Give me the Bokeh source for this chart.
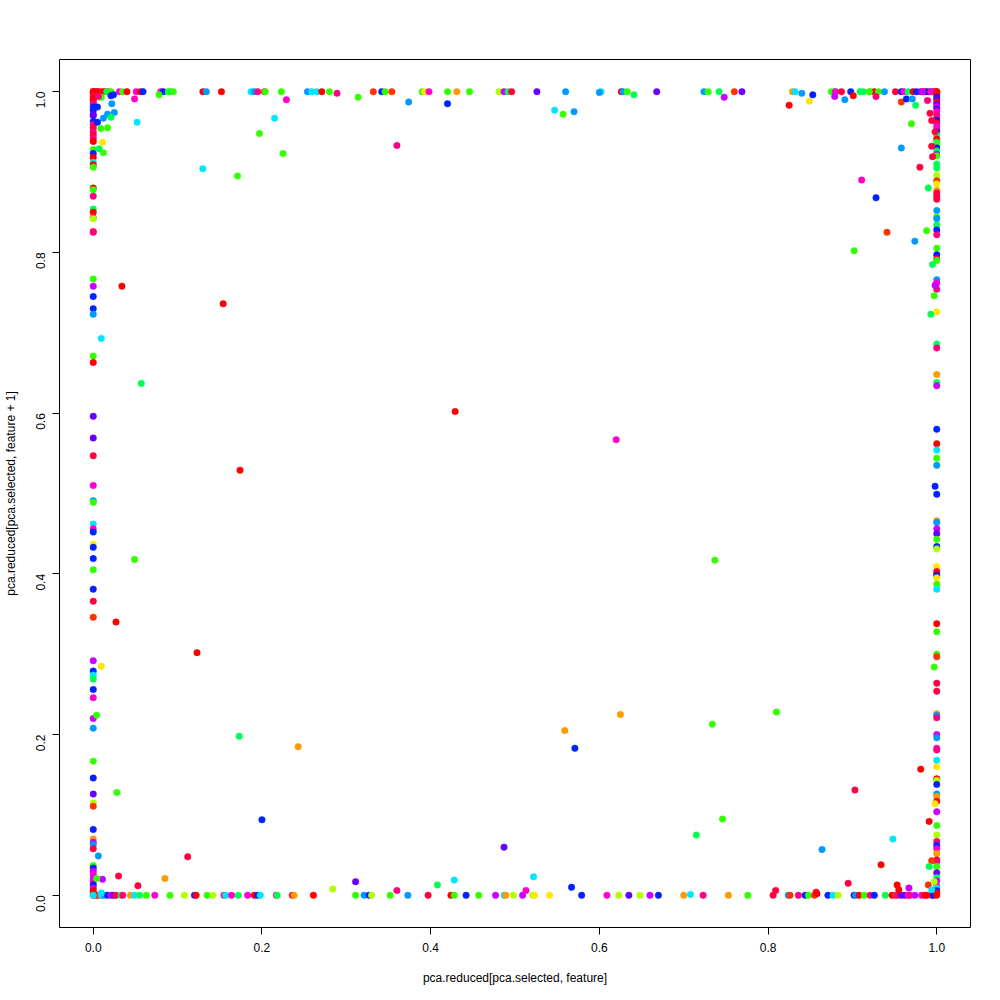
import math
from bokeh.plotting import figure
from bokeh.models import Range1d, FixedTicker, PrintfTickFormatter, ColumnDataSource
from bokeh.embed import file_html
from bokeh.resources import INLINE

# colour classes (R rainbow-like)
palette = {
    "red": "#FF0000", "orred": "#FF3300", "orange": "#FF9900", "yellow": "#FFE600",
    "ygreen": "#B3FF00", "green": "#33FF00", "spring": "#00FF55", "cyan": "#00E6FF",
    "azure": "#0099FF", "blue": "#0022FF", "violet": "#6600FF", "purple": "#CC00FF",
    "magenta": "#FF00CC", "pink": "#FF0080", "crimson": "#FF0040",
}

# points on the top edge (y = 1)
top_x = [0.0, 0.003, 0.006, 0.009, 0.012, 0.015, 0.018, 0.001, 0.005,
         0.016, 0.021, 0.031, 0.035, 0.040, 0.051, 0.056, 0.059, 0.080, 0.083, 0.089,
         0.092, 0.095, 0.130, 0.134, 0.152, 0.187, 0.191, 0.195, 0.203, 0.204, 0.223,
         0.254, 0.259, 0.265, 0.271, 0.280, 0.332, 0.342, 0.346, 0.354, 0.390, 0.393,
         0.398, 0.420, 0.431, 0.446, 0.481, 0.487, 0.492, 0.496, 0.526, 0.560, 0.602,
         0.626, 0.628, 0.633, 0.668, 0.724, 0.729, 0.742, 0.760, 0.769, 0.829, 0.832,
         0.875, 0.879, 0.880, 0.887, 0.898, 0.909, 0.913, 0.921, 0.926, 0.920, 0.931,
         0.938, 0.951, 0.958, 0.961, 0.966, 0.972, 0.976, 0.981, 0.985, 0.987, 0.990,
         0.994, 0.997, 1.0, 0.999, 0.993, 0.983]
top_c = ["red", "crimson", "red", "orred", "red", "red", "orred", "pink", "red",
         "spring", "green", "magenta", "green", "red", "magenta", "red", "blue", "magenta", "blue", "green",
         "spring", "green", "red", "azure", "red", "cyan", "azure", "pink", "red", "green", "green",
         "azure", "cyan", "cyan", "red", "green", "orred", "blue", "green", "orred", "green", "yellow",
         "magenta", "green", "orange", "green", "ygreen", "purple", "spring", "crimson", "violet", "azure", "cyan",
         "red", "azure", "green", "violet", "azure", "green", "spring", "orred", "violet", "orange", "cyan",
         "green", "spring", "magenta", "crimson", "blue", "spring", "spring", "spring", "red", "green", "green",
         "azure", "crimson", "blue", "magenta", "spring", "red", "blue", "violet", "red", "red", "blue",
         "violet", "red", "red", "crimson", "magenta", "purple"]

# points on the bottom edge (y = 0)
bottom_x = [0.004, 0.0075, 0.010, 0.013, 0.017, 0.021, 0.024, 0.027, 0.033, 0.035, 0.044, 0.049,
            0.055, 0.063, 0.073, 0.091, 0.108, 0.120, 0.122, 0.135, 0.142, 0.155, 0.157, 0.164,
            0.172, 0.183, 0.191, 0.195, 0.198, 0.217, 0.218, 0.236, 0.238, 0.261, 0.311, 0.321,
            0.327, 0.330, 0.352, 0.373, 0.397, 0.424, 0.428, 0.442, 0.457, 0.477, 0.487, 0.489,
            0.498, 0.509, 0.521, 0.523, 0.541, 0.579, 0.609, 0.623, 0.635, 0.648, 0.660, 0.670,
            0.700, 0.723, 0.753, 0.776, 0.806, 0.824, 0.826, 0.836, 0.844, 0.848, 0.855, 0.871,
            0.877, 0.883, 0.902, 0.904, 0.908, 0.914, 0.921, 0.926, 0.939, 0.947, 0.951, 0.953,
            0.958, 0.962, 0.966, 0.968, 0.974, 0.982, 0.986, 0.988, 0.994, 0.996, 1.0]
bottom_c = ["red", "orred", "cyan", "azure", "blue", "purple", "violet", "crimson", "spring", "pink", "orange", "cyan",
            "spring", "green", "magenta", "green", "ygreen", "blue", "red", "green", "ygreen", "pink", "cyan", "magenta",
            "spring", "magenta", "red", "blue", "cyan", "pink", "spring", "crimson", "orange", "red", "green", "azure",
            "blue", "ygreen", "green", "azure", "crimson", "red", "green", "blue", "green", "purple", "cyan", "orange",
            "ygreen", "purple", "ygreen", "yellow", "yellow", "blue", "magenta", "ygreen", "violet", "ygreen", "purple", "blue",
            "orange", "pink", "orange", "green", "crimson", "azure", "orred", "pink", "blue", "green", "orred", "blue",
            "cyan", "ygreen", "blue", "azure", "red", "green", "pink", "blue", "spring", "red", "orred", "pink",
            "violet", "violet", "magenta", "pink", "purple", "magenta", "red", "red", "crimson", "blue", "red"]

# points on the left edge (x = 0)
left_y = [1.0, 0.997, 0.994, 0.991, 0.988, 0.985, 0.981, 0.977, 0.972, 0.970, 0.963, 0.959, 0.955,
          0.950, 0.946, 0.942, 0.938, 0.928, 0.923, 0.918, 0.912, 0.909, 0.906, 0.880, 0.878, 0.870,
          0.854, 0.850, 0.843, 0.842, 0.826, 0.825, 0.767, 0.758, 0.745, 0.730, 0.723, 0.671, 0.663,
          0.596, 0.569, 0.547, 0.510, 0.491, 0.489, 0.462, 0.456, 0.452, 0.437, 0.433, 0.419, 0.405,
          0.381, 0.366, 0.346, 0.292, 0.279, 0.274, 0.269, 0.256, 0.246, 0.220, 0.208, 0.167, 0.146,
          0.126, 0.115, 0.111, 0.082, 0.070, 0.066, 0.063, 0.058, 0.037, 0.034, 0.030, 0.026, 0.021,
          0.017, 0.013, 0.009, 0.006, 0.003, 0.0, 0.0]
left_c = ["red", "red", "crimson", "red", "red", "pink", "blue", "blue", "violet", "violet", "blue", "pink", "crimson",
          "pink", "crimson", "pink", "red", "green", "blue", "red", "cyan", "red", "green", "red", "green", "pink",
          "spring", "red", "pink", "ygreen", "orred", "pink", "green", "purple", "blue", "blue", "azure", "green", "red",
          "violet", "violet", "crimson", "magenta", "azure", "green", "cyan", "magenta", "blue", "yellow", "blue", "blue", "green",
          "blue", "crimson", "orred", "purple", "blue", "cyan", "spring", "blue", "magenta", "purple", "azure", "green", "blue",
          "violet", "ygreen", "orred", "blue", "orange", "purple", "azure", "crimson", "green", "blue", "purple", "magenta", "purple",
          "magenta", "blue", "purple", "red", "red", "red", "cyan"]

# points on the right edge (x = 1)
right_y = [1.0, 0.998, 0.996, 0.993, 0.990, 0.987, 0.984, 0.981, 0.979, 0.975, 0.971, 0.967, 0.964,
           0.961, 0.957, 0.953, 0.950, 0.946, 0.941, 0.937, 0.934, 0.930, 0.926, 0.922, 0.920, 0.910,
           0.905, 0.896, 0.889, 0.885, 0.877, 0.874, 0.870, 0.866, 0.852, 0.844, 0.842, 0.834, 0.828,
           0.822, 0.805, 0.797, 0.792, 0.790, 0.766, 0.762, 0.754, 0.726, 0.686, 0.681, 0.648, 0.638,
           0.634, 0.580, 0.562, 0.554, 0.544, 0.535, 0.499, 0.466, 0.464, 0.456, 0.450, 0.443, 0.434,
           0.431, 0.409, 0.403, 0.400, 0.398, 0.395, 0.387, 0.381, 0.338, 0.328, 0.300, 0.297, 0.264,
           0.254, 0.226, 0.224, 0.221, 0.200, 0.196, 0.183, 0.181, 0.168, 0.160, 0.145, 0.143, 0.138,
           0.126, 0.123, 0.117, 0.104, 0.087, 0.075, 0.067, 0.062, 0.058, 0.052, 0.044, 0.042, 0.036,
           0.028, 0.022, 0.018, 0.011, 0.009, 0.006, 0.003]
right_c = ["red", "red", "red", "blue", "violet", "red", "violet", "magenta", "violet", "magenta", "pink", "pink", "blue",
           "crimson", "magenta", "magenta", "blue", "spring", "red", "spring", "green", "blue", "spring", "purple", "green", "spring",
           "spring", "ygreen", "orred", "yellow", "orange", "crimson", "crimson", "crimson", "azure", "green", "azure", "spring", "blue",
           "pink", "green", "blue", "crimson", "green", "azure", "magenta", "pink", "yellow", "spring", "pink", "orange", "spring",
           "purple", "blue", "red", "cyan", "green", "azure", "blue", "orange", "azure", "purple", "violet", "green", "blue",
           "ygreen", "yellow", "crimson", "red", "blue", "yellow", "green", "cyan", "red", "green", "green", "orred", "crimson",
           "crimson", "orange", "azure", "pink", "purple", "azure", "magenta", "pink", "cyan", "yellow", "red", "ygreen", "blue",
           "azure", "orange", "red", "purple", "green", "ygreen", "pink", "blue", "magenta", "orange", "red", "pink", "green",
           "violet", "spring", "purple", "pink", "cyan", "blue", "red"]

# points away from the edges
inner_x = [0.049, 0.078, 0.021, 0.024, 0.0095, 0.006, 0.022, 0.005, 0.025, 0.017, 0.021, 0.012, 0.005,
           0.052, 0.009, 0.017, 0.011, 0.007, 0.012, 0.130, 0.171, 0.197, 0.215, 0.225, 0.229, 0.314,
           0.289, 0.374, 0.420, 0.360, 0.547, 0.557, 0.570, 0.600, 0.641, 0.748, 0.825, 0.849, 0.853,
           0.840, 0.879, 0.901, 0.928, 0.891, 0.958, 0.964, 0.971, 0.975, 0.989, 0.992, 0.994, 0.998,
           0.994, 0.995, 0.980, 0.970, 0.958, 0.911, 0.990, 0.928, 0.941, 0.974, 0.988, 0.902, 0.995,
           0.998, 0.997, 0.993, 0.998, 0.981, 0.903, 0.991, 0.948, 0.934, 0.994, 0.991, 0.967, 0.953,
           0.955, 0.990, 0.997, 0.994, 0.998, 0.746, 0.715, 0.864, 0.895, 0.809, 0.857, 0.858, 0.708,
           0.360, 0.408, 0.428, 0.487, 0.513, 0.522, 0.567, 0.200, 0.112, 0.085, 0.030, 0.011, 0.053,
           0.284, 0.311, 0.028, 0.006, 0.004, 0.0095, 0.429, 0.620, 0.174, 0.154, 0.034, 0.0095, 0.057,
           0.049, 0.027, 0.0095, 0.004, 0.737, 0.123, 0.173, 0.243, 0.559, 0.625, 0.734, 0.810, 0.571,
           0.997]
inner_y = [0.991, 0.996, 0.995, 0.996, 0.993, 0.994, 0.985, 0.981, 0.974, 0.972, 0.968, 0.967, 0.962,
           0.962, 0.954, 0.955, 0.937, 0.929, 0.924, 0.904, 0.895, 0.948, 0.967, 0.923, 0.990, 0.993,
           0.998, 0.987, 0.985, 0.933, 0.977, 0.972, 0.975, 0.999, 0.996, 0.993, 0.983, 0.988, 0.996,
           0.998, 0.994, 0.995, 0.994, 0.990, 0.987, 0.991, 0.991, 0.983, 0.989, 0.973, 0.964, 0.950,
           0.932, 0.919, 0.906, 0.960, 0.930, 0.890, 0.880, 0.868, 0.825, 0.814, 0.827, 0.802, 0.785,
           0.759, 0.746, 0.723, 0.509, 0.157, 0.131, 0.092, 0.070, 0.038, 0.043, 0.036, 0.009, 0.013,
           0.007, 0.013, 0.017, 0.007, 0.114, 0.095, 0.075, 0.057, 0.015, 0.006, 0.004, 0.002, 0.001,
           0.006, 0.013, 0.019, 0.060, 0.006, 0.023, 0.010, 0.094, 0.048, 0.021, 0.024, 0.020, 0.012,
           0.008, 0.017, 0.128, 0.049, 0.021, 0.003, 0.602, 0.567, 0.529, 0.736, 0.758, 0.693, 0.637,
           0.418, 0.340, 0.285, 0.224, 0.417, 0.302, 0.198, 0.185, 0.205, 0.225, 0.213, 0.228, 0.183,
           0.284]
inner_c = ["magenta", "green", "blue", "blue", "green", "pink", "azure", "blue", "azure", "azure", "spring", "azure", "blue",
           "cyan", "green", "green", "yellow", "spring", "green", "cyan", "green", "green", "cyan", "green", "magenta", "green",
           "pink", "azure", "blue", "pink", "cyan", "green", "azure", "azure", "spring", "purple", "red", "yellow", "blue",
           "azure", "purple", "red", "pink", "azure", "orred", "blue", "azure", "spring", "pink", "crimson", "crimson", "crimson",
           "crimson", "crimson", "crimson", "green", "azure", "magenta", "spring", "blue", "orred", "azure", "green", "green", "spring",
           "purple", "green", "spring", "blue", "red", "crimson", "red", "cyan", "red", "orred", "spring", "purple", "red",
           "red", "orred", "ygreen", "cyan", "yellow", "green", "spring", "azure", "crimson", "crimson", "crimson", "red", "cyan",
           "pink", "spring", "cyan", "violet", "magenta", "cyan", "blue", "blue", "crimson", "orange", "crimson", "purple", "crimson",
           "ygreen", "violet", "green", "azure", "green", "cyan", "red", "magenta", "red", "red", "red", "cyan", "spring",
           "green", "red", "yellow", "green", "green", "red", "spring", "orange", "orange", "orange", "green", "green", "blue",
           "green"]

xs = list(top_x) + list(bottom_x) + [0.0] * len(left_y) + [1.0] * len(right_y) + list(inner_x)
ys = [1.0] * len(top_x) + [0.0] * len(bottom_x) + list(left_y) + list(right_y) + list(inner_y)
cs = [palette[c] for c in (top_c + bottom_c + left_c + right_c + inner_c)]

src = ColumnDataSource(dict(x=xs, y=ys, c=cs))

p = figure(width=992, height=992, output_backend="svg", toolbar_location=None,
           x_range=Range1d(-0.04, 1.04), y_range=Range1d(-0.04, 1.04),
           min_border_left=59, min_border_right=22, min_border_top=59, min_border_bottom=65)
p.xgrid.visible = False
p.ygrid.visible = False
p.outline_line_color = "black"
p.outline_line_alpha = 1.0
p.outline_line_width = 1
p.background_fill_color = "white"
p.border_fill_color = "white"

ticks = [0.0, 0.2, 0.4, 0.6, 0.8, 1.0]
for ax in (p.xaxis[0], p.yaxis[0]):
    ax.ticker = FixedTicker(ticks=ticks)
    ax.formatter = PrintfTickFormatter(format="%.1f")
    ax.bounds = (0, 1)
    ax.minor_tick_line_color = None
    ax.major_tick_in = 0
    ax.major_tick_out = 7
    ax.major_tick_line_color = "black"
    ax.axis_line_color = "black"
    ax.major_label_text_font = "Liberation Sans"
    ax.major_label_text_font_size = "12px"
    ax.major_label_text_color = "black"
    ax.axis_label_text_font = "Liberation Sans"
    ax.axis_label_text_font_size = "12px"
    ax.axis_label_text_font_style = "normal"
    ax.axis_label_text_color = "black"

p.xaxis.axis_label = "pca.reduced[pca.selected, feature]"
p.yaxis.axis_label = "pca.reduced[pca.selected, feature + 1]"
p.xaxis.major_label_standoff = 8
p.xaxis.axis_label_standoff = 16
p.yaxis.major_label_orientation = math.pi / 2
p.yaxis.major_label_standoff = 12
p.yaxis.axis_label_standoff = 11

p.scatter("x", "y", source=src, size=6.5, fill_color="c", line_color="c", line_width=0.5)

open("out.html", "w").write(file_html(p, INLINE))
